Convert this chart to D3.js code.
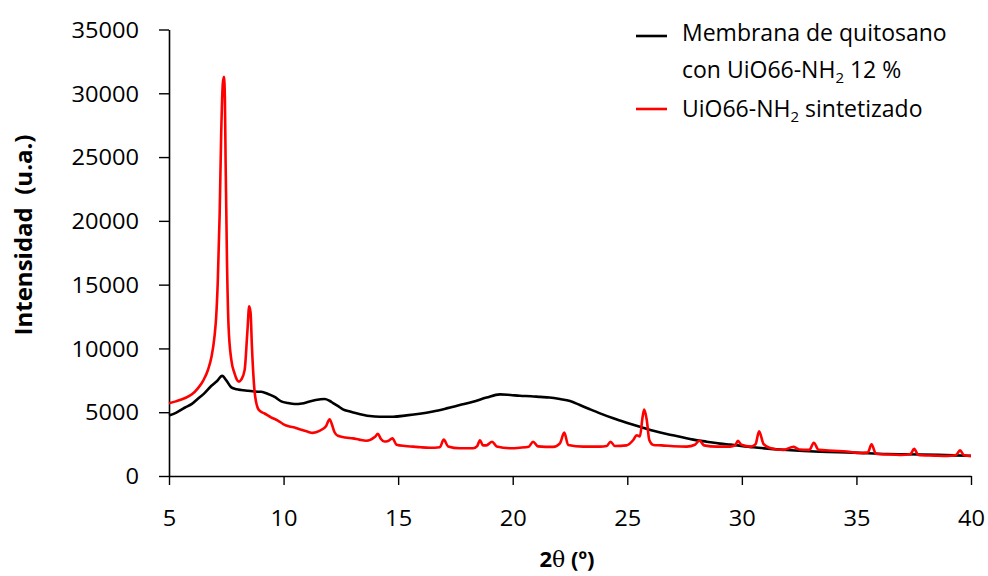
<!DOCTYPE html>
<html>
<head>
<meta charset="utf-8">
<script src="https://cdn.jsdelivr.net/npm/d3@7/dist/d3.min.js"></script>
<style>
  html, body { margin: 0; padding: 0; background: #fff; }
  svg { display: block; }
  text { font-family: "Open Sans", "Noto Sans", sans-serif; fill: #000; }
</style>
</head>
<body>
<svg id="chart" width="988" height="576"></svg>
<script>
// Diffractogram data: [2θ (°), intensity (a.u.)]
const membrana = [
  [5.0,4750],[5.3,4950],[5.68,5350],[6.0,5650],[6.26,6050],[6.55,6500],[6.84,7050],
  [7.1,7450],[7.32,7850],[7.5,7500],[7.72,6950],[7.95,6800],[8.15,6740],[8.45,6680],
  [8.73,6620],[9.03,6600],[9.3,6450],[9.61,6200],[9.9,5850],[10.19,5720],[10.48,5640],
  [10.8,5680],[11.1,5820],[11.4,5950],[11.79,6030],[12.0,5900],[12.16,5720],[12.4,5450],
  [12.59,5230],[12.9,5050],[13.18,4910],[13.5,4780],[13.76,4700],[14.2,4650],[14.78,4650],
  [15.36,4750],[15.94,4880],[16.52,5060],[17.11,5300],[17.69,5560],[18.27,5820],[18.86,6150],
  [19.44,6400],[19.9,6350],[20.31,6290],[20.8,6250],[21.19,6200],[21.6,6150],[22.06,6030],
  [22.5,5880],[22.93,5560],[23.37,5230],[23.81,4910],[24.39,4520],[24.97,4180],[25.55,3860],
  [26.14,3550],[26.72,3290],[27.3,3080],[27.88,2850],[28.47,2690],[29.05,2540],[29.49,2460],
  [30.5,2250],[31.96,2040],[33.42,1900],[34.87,1830],[36.33,1720],[37.79,1690],[39.24,1620],
  [40.0,1590]
];

const uio66 = [
  [5.0,5700],[5.3,5850],[5.68,6090],[6.0,6400],[6.26,6870],[6.5,7500],[6.7,8310],[6.85,9300],
  [6.99,11000],[7.06,12500],[7.13,15300],[7.21,20500],[7.28,27000],[7.35,30800],[7.40,31300],
  [7.44,29500],[7.47,24700],[7.53,16900],[7.60,11700],[7.72,9100],[7.86,8050],[7.95,7600],
  [8.05,7400],[8.15,7550],[8.30,8300],[8.42,11300],[8.50,13300],[8.56,12800],[8.62,10100],
  [8.73,6740],[8.88,5300],[9.0,5050],[9.17,4900],[9.45,4600],[9.75,4350],[10.0,4050],
  [10.26,3880],[10.48,3800],[10.70,3660],[11.0,3500],[11.28,3380],[11.59,3560],[11.85,3900],
  [12.01,4450],[12.10,4100],[12.22,3450],[12.37,3150],[12.7,3020],[13.03,2950],[13.3,2850],
  [13.61,2760],[13.98,3050],[14.12,3300],[14.25,2900],[14.4,2700],[14.56,2750],[14.75,2950],
  [14.93,2450],[15.3,2350],[15.65,2300],[16.0,2250],[16.38,2220],[16.82,2260],[16.99,2850],
  [17.18,2320],[17.69,2180],[18.27,2180],[18.45,2350],[18.57,2800],[18.7,2400],[18.85,2400],
  [19.10,2690],[19.3,2320],[19.87,2180],[20.31,2220],[20.7,2300],[20.89,2690],[21.1,2320],
  [21.77,2280],[22.06,2560],[22.25,3400],[22.42,2430],[23.08,2300],[23.81,2300],[24.1,2350],
  [24.27,2690],[24.46,2350],[24.97,2400],[25.26,2820],[25.41,3200],[25.55,3100],[25.67,4650],
  [25.74,5200],[25.85,4390],[25.96,2820],[26.14,2430],[26.5,2400],[27.01,2330],[27.6,2300],
  [27.95,2450],[28.15,2780],[28.35,2400],[28.91,2300],[29.49,2300],[29.7,2400],[29.83,2750],
  [29.98,2450],[30.4,2300],[30.6,2500],[30.75,3500],[30.95,2500],[31.23,2200],[31.81,2050],
  [32.25,2280],[32.5,2080],[32.95,2050],[33.14,2600],[33.35,2050],[34.0,1980],[34.58,1920],
  [35.17,1800],[35.5,1850],[35.66,2480],[35.85,1750],[36.4,1680],[36.92,1650],[37.35,1700],
  [37.52,2130],[37.7,1650],[38.4,1600],[38.95,1570],[39.35,1650],[39.52,2010],[39.7,1620],
  [40.0,1560]
];

const xTicks = [5, 10, 15, 20, 25, 30, 35, 40];
const yTicks = [0, 5000, 10000, 15000, 20000, 25000, 30000, 35000];

const svg = d3.select("#chart");
const x = d3.scaleLinear().domain([5, 40]).range([169, 971]);
const y = d3.scaleLinear().domain([0, 35000]).range([476, 29.5]);

// Axes
const xAxis = svg.append("g")
  .attr("transform", `translate(0,${y(0)})`)
  .call(d3.axisBottom(x).tickValues(xTicks).tickSize(9).tickSizeOuter(0).tickFormat(d3.format("d")));
const yAxis = svg.append("g")
  .attr("transform", `translate(${x(5)},0)`)
  .call(d3.axisLeft(y).tickValues(yTicks).tickSize(10).tickSizeOuter(0).tickFormat(d3.format("d")));

[xAxis, yAxis].forEach(g => {
  g.select(".domain").attr("stroke", "#000").attr("stroke-width", 1.6);
  g.selectAll(".tick line").attr("stroke", "#000").attr("stroke-width", 1.4);
  g.selectAll(".tick text").style("font-size", "21.5px").attr("fill", "#000");
});
xAxis.selectAll(".tick text")
  .attr("y", 0).attr("dy", 0)
  .attr("transform", "translate(0,50) scale(1.1,1)");
yAxis.selectAll(".tick text")
  .attr("x", 0).attr("dy", "0.36em")
  .attr("transform", "translate(-30,0) scale(1.1,1)");

// Traces
const line = d3.line().x(d => x(d[0])).y(d => y(d[1])).curve(d3.curveMonotoneX);
svg.append("path").datum(membrana)
  .attr("fill", "none").attr("stroke", "#000").attr("stroke-width", 2.6)
  .attr("stroke-linejoin", "round").attr("d", line);
svg.append("path").datum(uio66)
  .attr("fill", "none").attr("stroke", "#ff0000").attr("stroke-width", 2.6)
  .attr("stroke-linejoin", "round").attr("d", line);

// Axis titles
svg.append("text")
  .attr("x", 567).attr("y", 567).attr("text-anchor", "middle")
  .style("font-size", "22px").style("font-weight", "700")
  .call(t => {
    t.append("tspan").text("2");
    t.append("tspan").style("font-weight", "400").style("font-family", "'DejaVu Serif', serif").text("θ");
    t.append("tspan").text(" (º)");
  });

svg.append("text")
  .attr("transform", "translate(32,235) rotate(-90)")
  .attr("text-anchor", "middle")
  .style("font-size", "24px").style("font-weight", "700").style("white-space", "pre")
  .text("Intensidad  (u.a.)");

// Legend
const legend = svg.append("g");
legend.append("line").attr("x1", 636).attr("x2", 667).attr("y1", 36).attr("y2", 36)
  .attr("stroke", "#000").attr("stroke-width", 2.6);
legend.append("line").attr("x1", 636).attr("x2", 667).attr("y1", 109).attr("y2", 109)
  .attr("stroke", "#ff0000").attr("stroke-width", 2.6);

const lg1 = legend.append("text").attr("x", 682).attr("y", 41).style("font-size", "23px");
lg1.text("Membrana de quitosano");
const lg2 = legend.append("text").attr("x", 682).attr("y", 78).style("font-size", "23px");
lg2.append("tspan").text("con UiO66-NH");
lg2.append("tspan").attr("dy", 5).style("font-size", "15px").text("2");
lg2.append("tspan").attr("dy", -5).text(" 12 %");
const lg3 = legend.append("text").attr("x", 682).attr("y", 117).style("font-size", "23px");
lg3.append("tspan").text("UiO66-NH");
lg3.append("tspan").attr("dy", 5).style("font-size", "15px").text("2");
lg3.append("tspan").attr("dy", -5).text(" sintetizado");
</script>
</body>
</html>
